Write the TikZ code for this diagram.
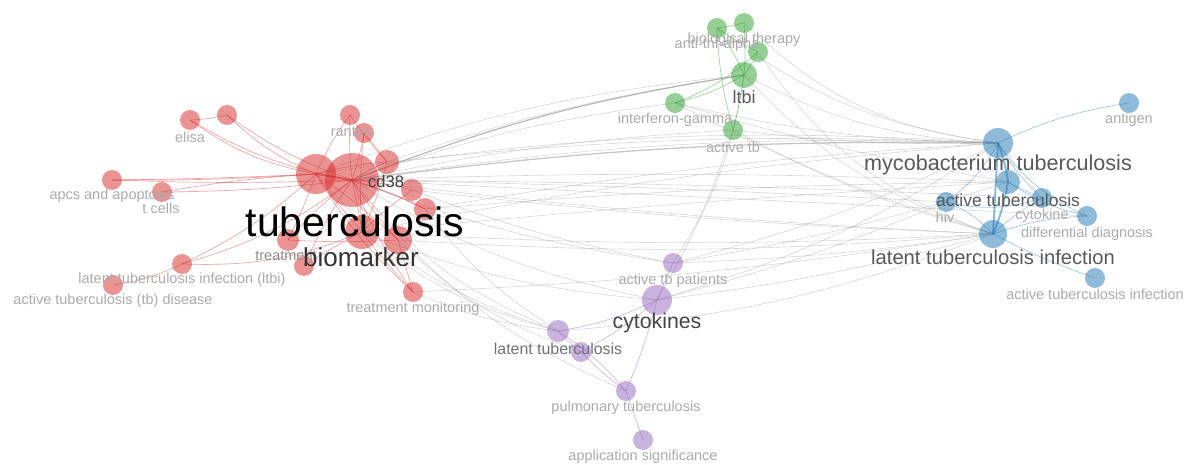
\documentclass[tikz,border=0pt]{standalone}
\usepackage{fontspec}
\setmainfont{Liberation Sans}
\definecolor{vred}{RGB}{214,39,40}
\definecolor{vgreen}{RGB}{44,160,44}
\definecolor{vblue}{RGB}{31,119,180}
\definecolor{vpurple}{RGB}{148,103,189}
\tikzset{
  kw/.style={circle, draw=none, inner sep=0pt, minimum size=#1},
  rn/.style={kw=#1, fill=vred, fill opacity=0.5},
  gn/.style={kw=#1, fill=vgreen, fill opacity=0.5},
  bn/.style={kw=#1, fill=vblue, fill opacity=0.5},
  pn/.style={kw=#1, fill=vpurple, fill opacity=0.5},
  ge/.style={draw=black!40, draw opacity=0.4, line width=0.6pt},
  gE/.style={draw=black!40, draw opacity=0.55, line width=1.3pt},
  re/.style={draw=vred, draw opacity=0.4, line width=0.7pt},
  gre/.style={draw=vgreen, draw opacity=0.45, line width=0.7pt},
  be/.style={draw=vblue, draw opacity=0.4, line width=0.7pt},
  bE/.style={draw=vblue, draw opacity=0.5, line width=2pt},
  pe/.style={draw=vpurple, draw opacity=0.45, line width=0.7pt},
  lab/.style={inner sep=0pt, text=black!33, font=\fontsize{14.5}{15}\selectfont},
  labm/.style={inner sep=0pt, text=black!65},
}
\begin{document}
\begin{tikzpicture}[x=1pt,y=-1pt]
\useasboundingbox (0,0) rectangle (1191,465);
% ---------- node positions (named, drawn later) ----------
\foreach \n/\x/\y/\r in {Ta/316/174/40, T/352/180/54, bio/362/232/34, cd/387/162/24, r5/412/190/22, r6/425/209/22,
  r7/398/240/28, trt/288/240/22, r9/304/266/20, ran/350/115/20, ran2/364/133/20, eli/190/120/20, eli2/227/115/20,
  apc/112/180/20, tc/162/192/20, ltR/182/264/20, atd/113/285/20, tm/413/292/20,
  ant/717/28/20, bth/744/23/20, g3/758/52/20, ltbi/744/75/26, ifn/675/103/20, atb/733/130/20,
  antg/1129/103/20, myco/998/143/30, actb/1008/182/24, hiv/946/202/20, cyt/1042/198/20, dd/1087/216/20,
  lti/993/234/28, ati/1095/278/20,
  atp/673/263/20, cyk/657/300/30, ltb/558/331/22, p2/581/352/20, pul/626/391/20, app/643/440/20}
  {\node[kw=\r pt] (\n) at (\x,\y) {};}

% ---------- edges ----------
% grey inter-cluster edges
\foreach \a/\b/\c in {T/ltbi/6, Ta/ltbi/7, T/ifn/6, T/atb/4, T/myco/5, Ta/myco/6, cd/myco/4, T/actb/2, T/hiv/1,
  T/lti/-2, bio/lti/-3, r5/lti/-2, r6/myco/3, r7/lti/-4, T/cyt/1, T/dd/0, bio/myco/3, cd/ltbi/5,
  T/cyk/-10, bio/cyk/-8, T/atp/-6, r5/atp/-5, T/ltb/-14, Ta/ltb/-16, bio/ltb/-12, r6/ltb/-10, r7/p2/-12, T/pul/-14,
  tm/ltb/-8, tm/lti/-3, r6/actb/2, bio/actb/1,
  ltbi/myco/-12, ltbi/lti/-14, bth/myco/-18, ant/myco/-14, g3/lti/-18, ifn/myco/-6, atb/myco/-4, atb/lti/-6,
  ifn/lti/-5, ltbi/atp/12, atb/cyk/6, ifn/actb/-3,
  cyk/myco/-8, cyk/lti/-4, atp/lti/-3, atp/myco/-6, cyk/hiv/-4, ltb/lti/-8, atp/actb/-4}
  {\draw[ge] (\a.center) to[bend left=\c] (\b.center);}
\draw[gE] (T.center) to[bend left=6] (ltbi.center);
\draw[gE] (T.center) to[bend left=4] (myco.center);
% red intra-cluster edges
\foreach \a/\b/\c in {T/eli/10, Ta/eli/12, T/eli2/8, Ta/eli2/10, T/apc/2, Ta/apc/1, T/tc/3, Ta/tc/-3,
  T/ltR/10, Ta/ltR/8, ltR/atd/8, bio/ltR/12, T/ran/4, Ta/ran/6, T/ran2/-4, bio/ran2/5, T/cd/4, Ta/cd/5, bio/cd/-5,
  T/r5/5, T/r6/5, Ta/r6/8, T/r7/-4, Ta/r7/4, T/trt/-5, Ta/trt/3, T/r9/-5, bio/r9/-3, T/tm/-6, bio/tm/-3, r7/tm/0,
  Ta/bio/-3, T/bio/2, ran/cd/-4, ran2/cd/2, eli/eli2/-5, bio/r5/4, trt/r7/-3, Ta/tm/-8, apc/Ta/-2}
  {\draw[re] (\a.center) to[bend left=\c] (\b.center);}
\draw[re, line width=2pt] (Ta.center) -- (T.center);
% green intra-cluster edges
\foreach \a/\b/\c in {ltbi/ant/-6, ltbi/bth/-4, ltbi/g3/-4, ant/bth/-4, ant/g3/-4, ifn/ltbi/-8, ifn/g3/-10, ltbi/atb/3, ant/atb/-6}
  {\draw[gre] (\a.center) to[bend left=\c] (\b.center);}
% blue intra-cluster edges
\foreach \a/\b/\c in {myco/antg/8, myco/hiv/12, lti/hiv/-12, actb/dd/-10, lti/dd/8, lti/ati/-4, myco/cyt/-8, lti/cyt/6,
  hiv/cyt/-15, myco/dd/-15, actb/cyt/-3}
  {\draw[be] (\a.center) to[bend left=\c] (\b.center);}
\draw[bE] (myco.center) -- (lti.center);
\draw[bE] (myco.center) to[bend left=6] (actb.center);
\draw[bE] (actb.center) to[bend left=6] (lti.center);
% purple intra-cluster edges
\foreach \a/\b/\c in {cyk/atp/0, cyk/ltb/8, cyk/p2/6, cyk/pul/4, ltb/pul/8, p2/pul/-4, pul/app/0, ltb/p2/-4}
  {\draw[pe] (\a.center) to[bend left=\c] (\b.center);}

% ---------- circles on top of edges ----------
\foreach \n/\s/\r in {Ta/rn/40, T/rn/54, bio/rn/34, cd/rn/24, r5/rn/22, r6/rn/22, r7/rn/28, trt/rn/22, r9/rn/20,
  ran/rn/20, ran2/rn/20, eli/rn/20, eli2/rn/20, apc/rn/20, tc/rn/20, ltR/rn/20, atd/rn/20, tm/rn/20,
  ant/gn/20, bth/gn/20, g3/gn/20, ltbi/gn/26, ifn/gn/20, atb/gn/20,
  antg/bn/20, myco/bn/30, actb/bn/24, hiv/bn/20, cyt/bn/20, dd/bn/20, lti/bn/28, ati/bn/20,
  atp/pn/20, cyk/pn/30, ltb/pn/22, p2/pn/20, pul/pn/20, app/pn/20}
  {\node[\s=\r pt] at (\n.center) {};}

% ---------- labels ----------
\node[lab] (lEli) at (190,137) {elisa};
\node[lab] (lRan) at (351,132) {rantes};
\node[lab] (lApc) at (112,196) {apcs and apoptosis};
\node[lab] (lTc) at (161,208) {t cells};
\node[lab] (lLtR) at (182,280) {latent tuberculosis infection (ltbi)};
\node[lab] (lAtd) at (113,301) {active tuberculosis (tb) disease};
\node[lab] (lTm) at (413,309) {treatment monitoring};
\node[lab, text=black!45] (lTrt) at (286,256) {treatment};
\node[labm, text=black!75, font=\fontsize{16.6}{17}\selectfont] (lCd) at (386,182) {cd38};
\node[inner sep=0pt, text=black, font=\fontsize{41}{41}\selectfont] (lT) at (355,222) {tuberculosis};
\node[labm, text=black!80, font=\fontsize{26}{26}\selectfont] (lBio) at (361,257) {biomarker};
\node[lab] (lBth) at (744,40) {biological therapy};
\node[lab] (lAnt) at (717,45) {anti-tnf-alpha};
\node[labm, font=\fontsize{18}{18}\selectfont] (lLtbi) at (744,97) {ltbi};
\node[lab] (lIfn) at (675,120) {interferon-gamma};
\node[lab] (lAtb) at (733,147) {active tb};
\node[lab] (lAntg) at (1129,120) {antigen};
\node[labm, font=\fontsize{21.6}{22}\selectfont] (lMyco) at (998,165) {mycobacterium tuberculosis};
\node[labm, font=\fontsize{17.5}{18}\selectfont] (lActb) at (1008,200) {active tuberculosis};
\node[lab] (lHiv) at (945,217) {hiv};
\node[lab] (lCyt) at (1042,216) {cytokine};
\node[lab] (lDd) at (1087,234) {differential diagnosis};
\node[labm, font=\fontsize{20.2}{21}\selectfont] (lLti) at (993,257) {latent tuberculosis infection};
\node[lab] (lAti) at (1095,294) {active tuberculosis infection};
\node[lab] (lAtp) at (673,281) {active tb patients};
\node[labm, text=black!72, font=\fontsize{21.3}{22}\selectfont] (lCyk) at (657,323) {cytokines};
\node[labm, text=black!55, font=\fontsize{15.9}{16}\selectfont] (lLtb) at (558,349) {latent tuberculosis};
\node[lab] (lPul) at (626,408) {pulmonary tuberculosis};
\node[lab] (lApp) at (643,457) {application significance};
\end{tikzpicture}
\end{document}
